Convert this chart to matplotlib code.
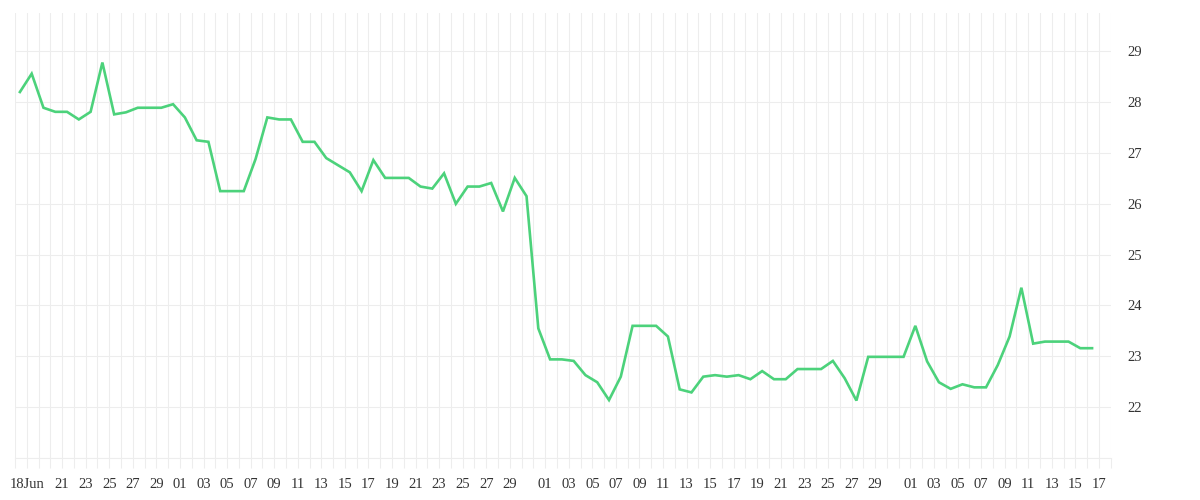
import numpy as np
import pandas as pd
import matplotlib
matplotlib.use('Agg')
import matplotlib.pyplot as plt
import matplotlib.dates as mdates

# daily readings, 17 Jun -> 16 Sep
start = '2023-06-17 10:00'
values = [
    28.20, 28.56, 27.89, 27.81, 27.81, 27.66, 27.81, 28.78, 27.76, 27.80,
    27.89, 27.89, 27.89, 27.96, 27.70, 27.25, 27.22, 26.25, 26.25, 26.25,
    26.88, 27.70, 27.66, 27.66, 27.22, 27.22, 26.90, 26.76, 26.62, 26.25,
    26.86, 26.51, 26.51, 26.51, 26.34, 26.30, 26.60, 26.00, 26.34, 26.34,
    26.41, 25.85, 26.51, 26.15, 23.55, 22.94, 22.94, 22.91, 22.63, 22.49,
    22.14, 22.60, 23.60, 23.60, 23.60, 23.39, 22.35, 22.29, 22.60, 22.63,
    22.60, 22.63, 22.55, 22.71, 22.55, 22.55, 22.75, 22.75, 22.75, 22.91,
    22.57, 22.13, 22.99, 22.99, 22.99, 22.99, 23.60, 22.90, 22.49, 22.36,
    22.45, 22.39, 22.39, 22.83, 23.39, 24.35, 23.25, 23.29, 23.29, 23.29,
    23.16, 23.16,
]
dates = pd.date_range(start, periods=len(values), freq='D')

y_ticks = [22, 23, 24, 25, 26, 27, 28, 29]
x_first_label = '2023-06-18'
x_range = ('2023-06-17', '2023-09-18')

line_color = '#4cd27b'
grid_color = '#ededed'
text_color = '#333333'

plt.rcParams['font.family'] = ['Liberation Serif', 'DejaVu Serif']

fig = plt.figure(figsize=(12, 5), dpi=100)
ax = fig.add_axes([0.0125, 0.084, 0.9131, 0.8906])

ax.plot(dates, values, color=line_color, linewidth=1.9, solid_joinstyle='miter', zorder=3)

# x ticks: 18Jun then every odd day (skip 31st)
day_ticks = pd.date_range(x_range[0], x_range[1], freq='D')
label_days = [pd.Timestamp(x_first_label)]
for d in day_ticks:
    if d > pd.Timestamp('2023-06-19') and d.day % 2 == 1 and d.day != 31 and d <= pd.Timestamp('2023-09-17'):
        label_days.append(d)
label_text = ['18Jun'] + ['%02d' % d.day for d in label_days[1:]]

ax.set_xticks(label_days)
ax.set_xticklabels(label_text)
ax.set_xticks(day_ticks, minor=True)
ax.set_xlim(pd.Timestamp(x_range[0]), pd.Timestamp(x_range[1]))

ax.set_ylim(21, 29.76)
ax.set_yticks([21] + y_ticks)
ax.set_yticklabels([''] + [str(v) for v in y_ticks])
ax.yaxis.tick_right()

ax.grid(True, which='both', axis='x', color=grid_color, linewidth=0.8)
ax.grid(True, which='major', axis='y', color=grid_color, linewidth=0.8)
ax.set_axisbelow(True)

ax.tick_params(axis='x', which='both', length=7.2, color=grid_color, width=0.8,
               pad=7, labelsize=10.5, labelcolor=text_color)
ax.tick_params(axis='y', which='both', length=0, pad=12, labelsize=10.5,
               labelcolor=text_color)

for s in ['top', 'left', 'right']:
    ax.spines[s].set_visible(False)
ax.spines['bottom'].set_color(grid_color)
ax.spines['bottom'].set_linewidth(0.8)

fig.savefig('out.png', dpi=100, facecolor='white')
